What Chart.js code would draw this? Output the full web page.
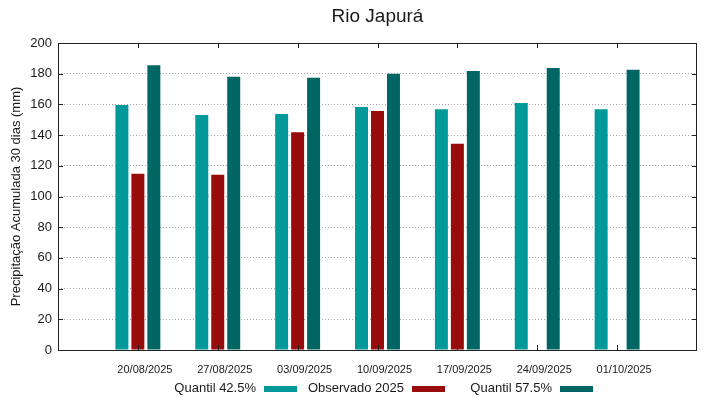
<!DOCTYPE html>
<html>
<head>
<meta charset="utf-8">
<script src="https://cdn.jsdelivr.net/npm/chart.js@4"></script>
<style>
  html, body { margin: 0; padding: 0; background: #fff; }
  #wrap { width: 719px; height: 399px; }
</style>
</head>
<body>
<div id="wrap"><canvas id="chart" width="719" height="399"></canvas></div>
<script>
const chartTitle = 'Rio Japurá'
const yTitle = 'Precipitação Acumulada 30 dias (mm)'
const categories = ['20/08/2025', '27/08/2025', '03/09/2025', '10/09/2025', '17/09/2025', '24/09/2025', '01/10/2025']
const quantil425 = [159.6, 153.1, 153.7, 158.3, 156.8, 160.9, 156.8]
const observado = [114.9, 114.2, 141.8, 155.7, 134.4, null, null]
const quantil575 = [185.5, 178, 177.4, 180, 181.8, 183.7, 182.6]
const yTicks = [0, 20, 40, 60, 80, 100, 120, 140, 160, 180, 200]

// one empty slot on each side, like the gnuplot x range
const pad = arr => [null, ...arr, null]
const FONT = "'Liberation Sans', Arial, sans-serif"

const frame = {
  id: 'frame',
  afterDraw(chart) {
    const { ctx, chartArea: a, scales } = chart
    ctx.save()
    // box
    ctx.strokeStyle = '#222'
    ctx.lineWidth = 1
    ctx.strokeRect(a.left + 0.5, a.top + 0.5, a.right - a.left - 1, a.bottom - a.top)
    // inner ticks
    ctx.beginPath()
    yTicks.forEach(v => {
      const y = Math.round(scales.y.getPixelForValue(v)) + 0.5
      ctx.moveTo(a.left, y); ctx.lineTo(a.left + 5, y)
      ctx.moveTo(a.right, y); ctx.lineTo(a.right - 5, y)
    })
    categories.forEach((c, i) => {
      const x = Math.round(scales.x.getPixelForValue(i + 1)) + 0.5
      ctx.moveTo(x, a.bottom); ctx.lineTo(x, a.bottom - 5)
      ctx.moveTo(x, a.top); ctx.lineTo(x, a.top + 5)
    })
    ctx.stroke()

    ctx.fillStyle = '#1a1a1a'
    // title
    ctx.font = '19px ' + FONT
    ctx.textAlign = 'center'
    ctx.textBaseline = 'alphabetic'
    ctx.fillText(chartTitle, (a.left + a.right) / 2, 22)
    // y title
    ctx.save()
    ctx.translate(20, (a.top + a.bottom) / 2)
    ctx.rotate(-Math.PI / 2)
    ctx.font = '13px ' + FONT
    ctx.fillText(yTitle, 0, 0)
    ctx.restore()
    // legend: text then sample
    const ends = [256, 404, 552]
    ctx.font = '13px ' + FONT
    ctx.textAlign = 'right'
    chart.data.datasets.forEach((ds, i) => {
      ctx.fillStyle = '#1a1a1a'
      ctx.fillText(ds.label, ends[i], 392)
      ctx.fillStyle = ds.backgroundColor
      ctx.fillRect(ends[i] + 8, 386, 33, 6)
    })
    ctx.restore()
  }
}

new Chart(document.getElementById('chart'), {
  type: 'bar',
  data: {
    labels: ['', ...categories, ''],
    datasets: [
      { label: 'Quantil 42.5%', data: pad(quantil425), backgroundColor: '#009999' },
      { label: 'Observado 2025', data: pad(observado), backgroundColor: '#990c0c' },
      { label: 'Quantil 57.5%', data: pad(quantil575), backgroundColor: '#006664' }
    ]
  },
  options: {
    responsive: false,
    animation: false,
    layout: { padding: { left: 0, right: 22, top: 43, bottom: 0 } },
    datasets: { bar: { categoryPercentage: 0.6, barPercentage: 0.8125 } },
    plugins: {
      legend: { display: false },
      title: { display: false },
      tooltip: { enabled: false }
    },
    scales: {
      x: {
        offset: false,
        grid: { display: false },
        border: { display: false },
        ticks: {
          autoSkip: false,
          maxRotation: 0,
          padding: 5,
          labelOffset: 7,
          color: '#1a1a1a',
          font: { family: FONT, size: 11 }
        },
        afterFit: s => { s.height = 49 }
      },
      y: {
        min: 0,
        max: 200,
        grid: { color: '#a8a8a8', drawTicks: false },
        border: { display: false, dash: [1, 2] },
        ticks: {
          stepSize: 20,
          padding: 6,
          color: '#1a1a1a',
          font: { family: FONT, size: 13 }
        },
        afterFit: s => { s.width = 58 }
      }
    }
  },
  plugins: [frame]
})
</script>
</body>
</html>
